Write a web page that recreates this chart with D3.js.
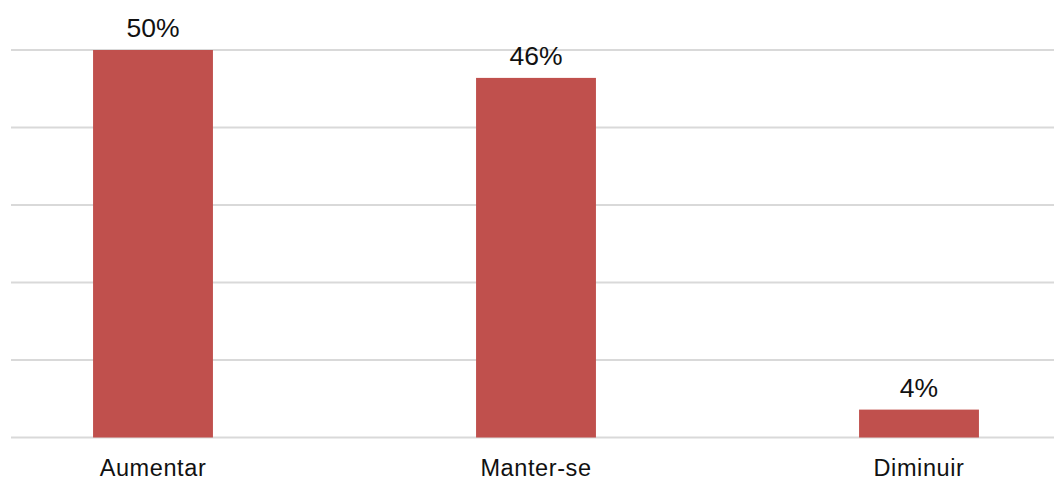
<!DOCTYPE html>
<html><head><meta charset="utf-8">
<script src="https://cdn.jsdelivr.net/npm/d3@7"></script>
<style>html,body{margin:0;padding:0;background:#fff;}svg{display:block;}</style>
</head><body>
<svg id="c" width="1054" height="480"></svg>
<script>
const categories = ["Aumentar", "Manter-se", "Diminuir"];
const values = [0.50, 0.464, 0.036];
const yTicks = [0, 0.1, 0.2, 0.3, 0.4, 0.5];

const svg = d3.select("#c");
const x = d3.scaleBand().domain(categories).range([-38.5, 1110.5]).paddingInner(0.687).paddingOuter(0.3435);
const y = d3.scaleLinear().domain([0, 0.5]).range([437.5, 50]);
const fmt = d3.format(".0%");
const font = "'Liberation Sans', Arial, Helvetica, sans-serif";

svg.append("g").selectAll("line").data(yTicks).join("line")
  .attr("x1", 11).attr("x2", 1054)
  .attr("y1", d => y(d)).attr("y2", d => y(d))
  .attr("stroke", "#d9d9d9").attr("stroke-width", 2);

svg.append("g").selectAll("rect").data(values).join("rect")
  .attr("x", (d, i) => x(categories[i]))
  .attr("width", x.bandwidth())
  .attr("y", d => y(d))
  .attr("height", d => y(0) - y(d))
  .attr("fill", "#c0504d");

svg.append("g").selectAll("text").data(values).join("text")
  .attr("x", (d, i) => x(categories[i]) + x.bandwidth() / 2)
  .attr("y", d => y(d) - 13)
  .attr("text-anchor", "middle")
  .attr("font-family", font).attr("font-size", 26.5).attr("fill", "#111")
  .text(d => fmt(d));

const xAxis = d3.axisBottom(x).tickSize(0).tickPadding(0);
const ax = svg.append("g").attr("transform", "translate(0,476)").call(xAxis);
ax.select(".domain").remove();
ax.selectAll("text").attr("font-family", font).attr("font-size", 23.5).attr("fill", "#111")
  .attr("dy", "0").attr("letter-spacing", "0.6px");
</script>
</body></html>
